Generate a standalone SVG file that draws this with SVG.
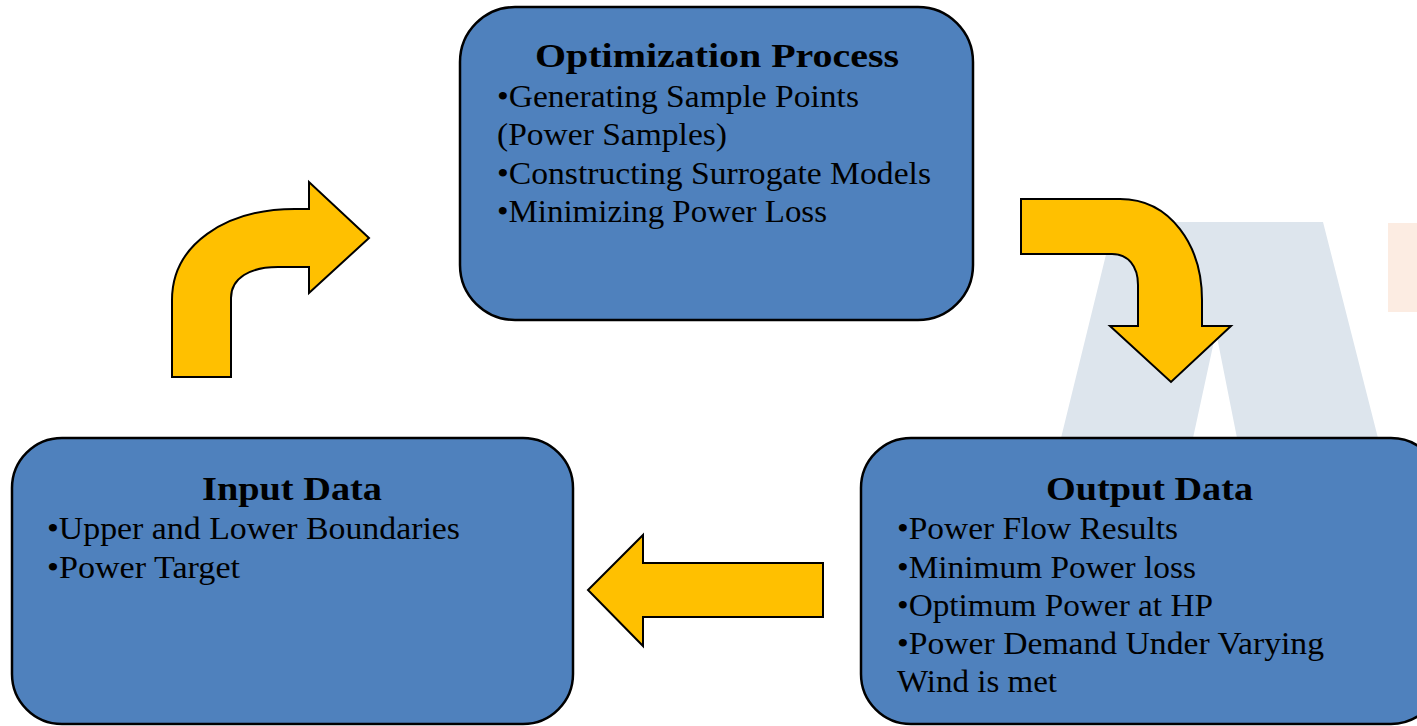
<svg xmlns="http://www.w3.org/2000/svg" width="1417" height="726" viewBox="0 0 1417 726">
<style>
.box{fill:#4F81BD;stroke:#000;stroke-width:2.5}
.arr{fill:#FFC000;stroke:#000;stroke-width:2;stroke-linejoin:miter}
.t{font-family:"Liberation Serif","DejaVu Serif",serif;font-size:31px;fill:#000}
.h{font-family:"Liberation Serif","DejaVu Serif",serif;font-size:33px;font-weight:bold;fill:#000}
</style>
<rect width="1417" height="726" fill="#fff"/>
<g id="watermark">
<path d="M1114,222 L1323,222 L1378,438 L1237,438 L1216,332 L1193,438 L1061,438 Z" fill="#DDE5ED"/>
<rect x="1388" y="223" width="29" height="89" fill="#FCECE2"/>
</g>
<g id="connectors">
<path class="arr" d="M172,377 L172,300 C172,245 225,209 295,209 L309,209 L309,182 L369,238 L309,293 L309,267 L278,267 C250,267 231,278 231,298 L231,377 Z"/>
<path class="arr" d="M1021,199 L1120,199 C1170,199 1202,245 1202,300 L1202,326 L1231,326 L1171,382 L1110,326 L1138,326 L1138,285 C1138,266 1128,254 1112,254 L1021,254 Z"/>
<path class="arr" d="M823,563 L643,563 L643,535 L588,590 L643,646 L643,617 L823,617 Z"/>
</g>
<g id="node-optimization">
<rect class="box" x="460" y="7" width="513" height="313" rx="55" ry="55"/>
<text class="h" x="535" y="67" textLength="364" lengthAdjust="spacingAndGlyphs">Optimization Process</text>
<text class="t" x="497" y="107" textLength="362" lengthAdjust="spacingAndGlyphs">•Generating Sample Points</text>
<text class="t" x="497" y="145" textLength="230" lengthAdjust="spacingAndGlyphs">(Power Samples)</text>
<text class="t" x="497" y="184" textLength="434" lengthAdjust="spacingAndGlyphs">•Constructing Surrogate Models</text>
<text class="t" x="497" y="222" textLength="330" lengthAdjust="spacingAndGlyphs">•Minimizing Power Loss</text>
</g>
<g id="node-input">
<rect class="box" x="12" y="438" width="561" height="286" rx="50" ry="50"/>
<text class="h" x="202" y="500" textLength="180" lengthAdjust="spacingAndGlyphs">Input Data</text>
<text class="t" x="47" y="539" textLength="413" lengthAdjust="spacingAndGlyphs">•Upper and Lower Boundaries</text>
<text class="t" x="47" y="578" textLength="193" lengthAdjust="spacingAndGlyphs">•Power Target</text>
</g>
<g id="node-output">
<rect class="box" x="861" y="438" width="580" height="286" rx="50" ry="50"/>
<text class="h" x="1046" y="500" textLength="207" lengthAdjust="spacingAndGlyphs">Output Data</text>
<text class="t" x="897" y="539" textLength="281" lengthAdjust="spacingAndGlyphs">•Power Flow Results</text>
<text class="t" x="897" y="578" textLength="299" lengthAdjust="spacingAndGlyphs">•Minimum Power loss</text>
<text class="t" x="897" y="616" textLength="316" lengthAdjust="spacingAndGlyphs">•Optimum Power at HP</text>
<text class="t" x="897" y="654" textLength="427" lengthAdjust="spacingAndGlyphs">•Power Demand Under Varying</text>
<text class="t" x="897" y="692" textLength="160" lengthAdjust="spacingAndGlyphs">Wind is met</text>
</g>
</svg>
